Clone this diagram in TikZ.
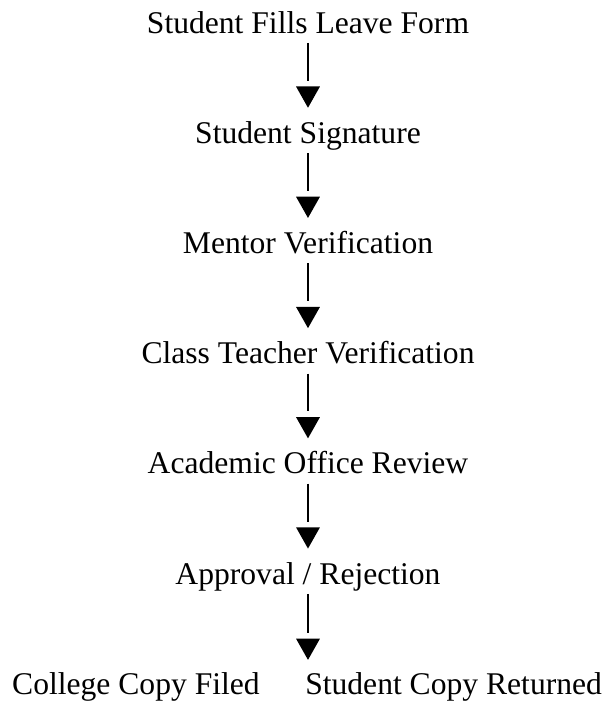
\documentclass[tikz,border=0pt]{standalone}
\usepackage{fontspec}
\setmainfont{Liberation Serif}
\usetikzlibrary{arrows.meta, decorations.markings}

\begin{document}
\begin{tikzpicture}[
            shorten < = 1.5pt, % gap below the text
            node distance = 82.65pt, % distance between stages
            line width = 1.9pt % line style
        ]

        \tikzstyle{stage}=[
            font = \fontsize{23.7}{28}\selectfont,
            inner sep = 0pt,
            text height = 17pt,
            text depth = 5pt
        ]
        % line stops short of the head, head stops short of the next text
        \tikzset{
            flow/.style = {
                shorten > = #1+20.25pt,
                postaction = {decorate, decoration = {markings,
                    mark = at position -#1 with {\arrow{Triangle[width=17.5pt, length=16pt]}}}}
            },
            flow/.default = 8.6pt
        }

	\useasboundingbox (-231pt,18.75pt) rectangle (222.75pt,-509.25pt);

	\node[stage] (form) {Student Fills Leave Form};
	\node[stage] (sign) [below of=form] {Student Signature};
	\node[stage] (mentor) [below of=sign] {Mentor Verification};
	\node[stage] (teacher) [below of=mentor] {Class Teacher Verification};
	\node[stage] (office) [below of=teacher] {Academic Office Review};
	\node[stage] (approval) [below of=office] {Approval / Rejection};
	\coordinate[below of=approval] (split);
	\node[stage, anchor=east] (filed) at ([xshift=-35.25pt]split) {College Copy Filed};
	\node[stage, anchor=west] (returned) at ([xshift=-3pt]split) {Student Copy Returned};

	\path (form) edge[flow] (sign);
	\path (sign) edge[flow] (mentor);
	\path (mentor) edge[flow] (teacher);
	\path (teacher) edge[flow] (office);
	\path (office) edge[flow] (approval);
	\path (approval) edge[flow=19.7pt] (split);

    \end{tikzpicture}
\end{document}
